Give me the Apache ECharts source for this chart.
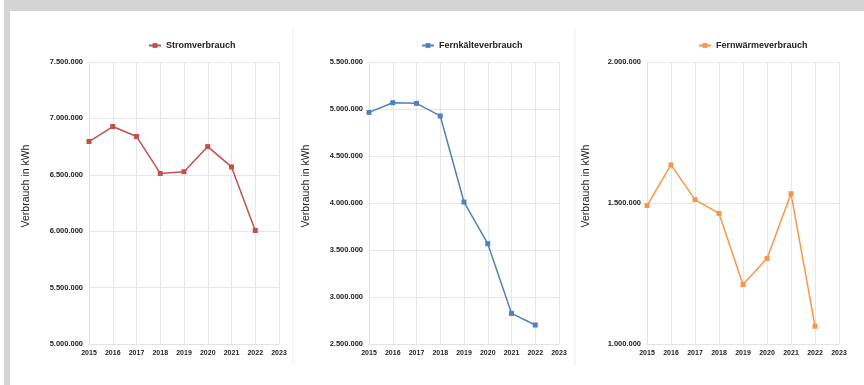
<!DOCTYPE html>
<html>
<head>
<meta charset="utf-8">
<script src="https://cdn.jsdelivr.net/npm/echarts@6/dist/echarts.min.js"></script>
<style>
html, body { margin: 0; padding: 0; background: #fff; }
#root { width: 864px; height: 385px; }
</style>
</head>
<body>
<div id="root"></div>
<script>
var years = ['2015', '2016', '2017', '2018', '2019', '2020', '2021', '2022', '2023'];
var strom = [6795000, 6928000, 6840000, 6512000, 6527000, 6750000, 6570000, 6006000];
var kaelte = [4964000, 5067000, 5060000, 4926000, 4010000, 3567000, 2826000, 2702000];
var waerme = [1491000, 1635000, 1512000, 1463000, 1211000, 1303000, 1533000, 1063000];
var names = ['Stromverbrauch', 'Fernkälteverbrauch', 'Fernwärmeverbrauch'];
var colors = ['#c0504d', '#4f81bd', '#f79646'];
var yMin = [5000000, 2500000, 1000000];
var yMax = [7500000, 5500000, 2000000];
var yStep = [500000, 500000, 500000];

var fmt = function (v) {
    return String(v).replace(/\B(?=(\d{3})+(?!\d))/g, '.');
};

var grids = [
    { left: 89, top: 62, width: 190, height: 282, outerBoundsMode: 'none' },
    { left: 369, top: 62, width: 190, height: 282, outerBoundsMode: 'none' },
    { left: 647, top: 62, width: 192, height: 282, outerBoundsMode: 'none' }
];
var legendX = [143, 416, 693];
var nameX = [27, 307, 587];
var dataSets = [strom, kaelte, waerme];

var xAxes = [], yAxes = [], series = [], legends = [];
for (var i = 0; i < 3; i++) {
    xAxes.push({
        gridIndex: i,
        type: 'category',
        data: years,
        boundaryGap: false,
        axisLine: { show: true, lineStyle: { color: '#e2e2e2' } },
        axisTick: { show: false },
        splitLine: { show: true, lineStyle: { color: '#e6e6e6' } },
        axisLabel: { color: '#222', fontSize: 7, fontWeight: 'bold', fontFamily: 'Liberation Sans', margin: 6, interval: 0 }
    });
    yAxes.push({
        gridIndex: i,
        type: 'value',
        min: yMin[i],
        max: yMax[i],
        interval: yStep[i],
        name: 'Verbrauch in kWh',
        nameLocation: 'middle',
        nameRotate: 90,
        nameGap: grids[i].left - nameX[i] - 5,
        nameTextStyle: { color: '#222', fontSize: 10.5, fontFamily: 'Liberation Sans', padding: [0, 0, 0, 34] },
        axisLine: { show: true, lineStyle: { color: '#e2e2e2' } },
        axisTick: { show: false },
        splitLine: { show: true, lineStyle: { color: '#e6e6e6' } },
        axisLabel: { color: '#222', fontSize: 7.5, fontWeight: 'bold', fontFamily: 'Liberation Sans', margin: 6, formatter: fmt }
    });
    series.push({
        name: names[i],
        type: 'line',
        xAxisIndex: i,
        yAxisIndex: i,
        data: dataSets[i],
        symbol: 'rect',
        symbolSize: 5,
        color: colors[i],
        lineStyle: { width: 1.5, color: colors[i] },
        itemStyle: { color: colors[i] }
    });
    legends.push({
        data: [names[i]],
        left: legendX[i],
        top: 36,
        itemWidth: 12,
        itemHeight: 6,
        itemGap: 3,
        textStyle: { color: '#222', fontSize: 9, fontWeight: 'bold', fontFamily: 'Liberation Sans' }
    });
}

var chart = echarts.init(document.getElementById('root'), null, { renderer: 'canvas' });
chart.setOption({
    animation: false,
    backgroundColor: '#fff',
    grid: grids,
    xAxis: xAxes,
    yAxis: yAxes,
    legend: legends,
    series: series,
    graphic: [
        { type: 'rect', shape: { x: 4, y: 0, width: 860, height: 11 }, style: { fill: '#d4d4d4' } },
        { type: 'rect', shape: { x: 4, y: 0, width: 6, height: 385 }, style: { fill: '#d4d4d4' } },
        { type: 'line', shape: { x1: 293, y1: 28, x2: 293, y2: 365 }, style: { stroke: '#ececec', lineWidth: 1 } },
        { type: 'line', shape: { x1: 575, y1: 28, x2: 575, y2: 365 }, style: { stroke: '#ececec', lineWidth: 1 } }
    ]
});
</script>
</body>
</html>
